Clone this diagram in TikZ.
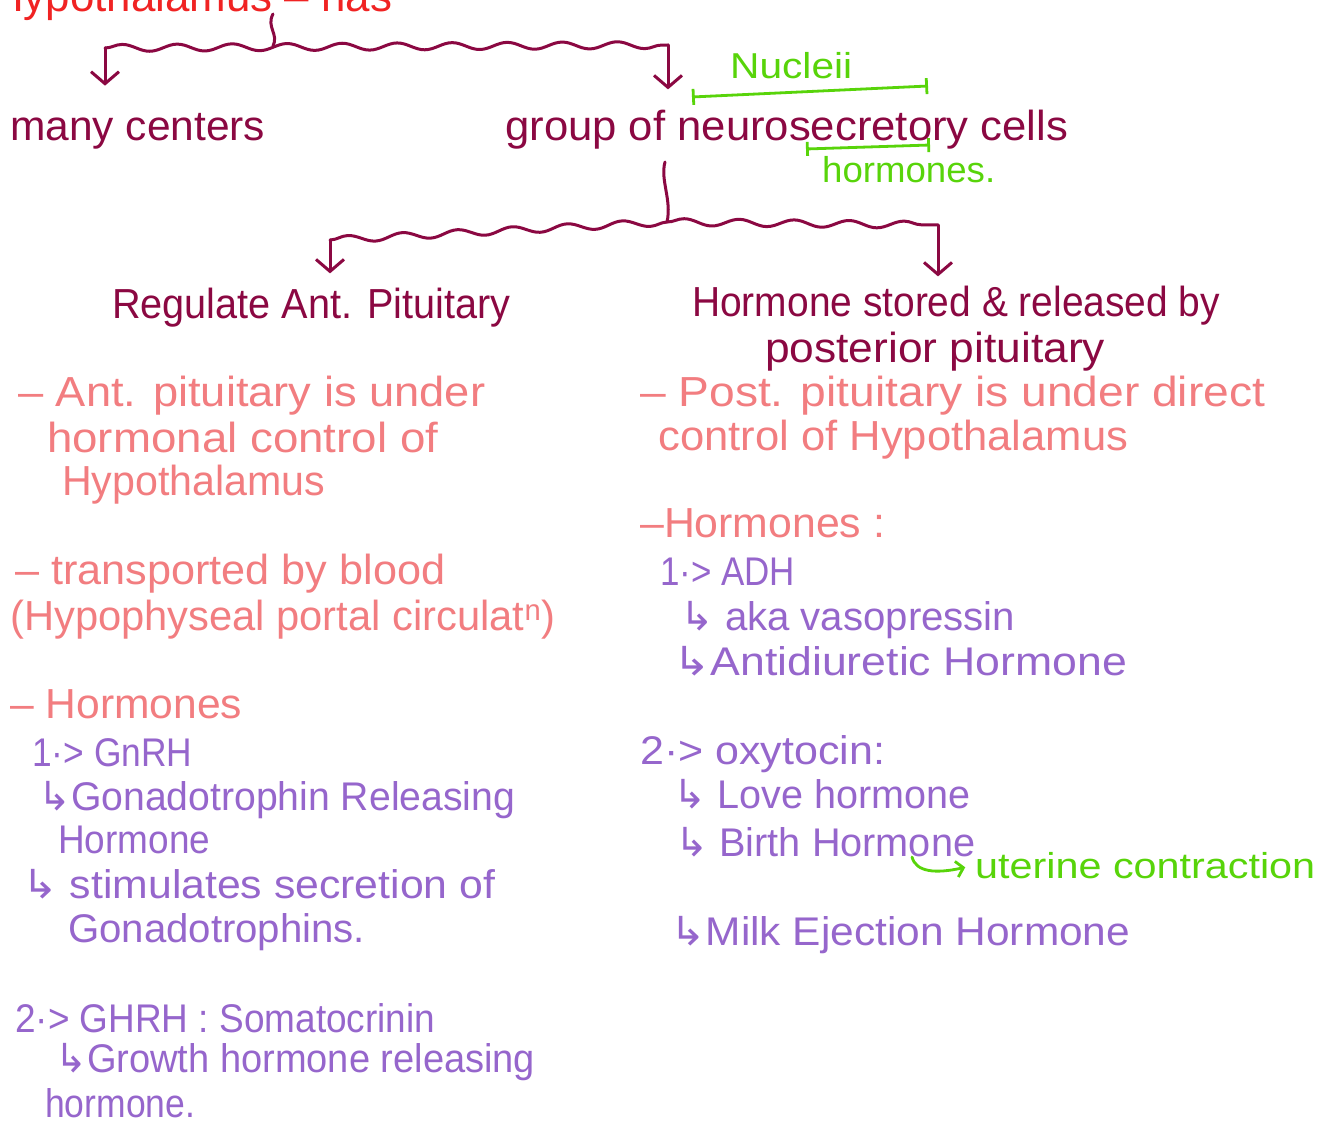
\documentclass[tikz,border=0pt]{standalone}
\usepackage{fontspec}
\usepackage{graphicx}
\setmainfont{Liberation Sans}
\newfontfamily\symf{DejaVu Sans}
\usetikzlibrary{arrows.meta,decorations.pathmorphing}
\definecolor{hmaroon}{RGB}{139,8,66}
\definecolor{topred}{RGB}{240,35,35}
\definecolor{pinkc}{RGB}{242,125,128}
\definecolor{purp}{RGB}{150,102,204}
\definecolor{grn}{RGB}{88,212,10}
\newcommand\fw[2]{\resizebox{#1pt}{\height}{#2}}
\newcommand\hk{{\symf ↳}}
\begin{document}
\begin{tikzpicture}[x=1pt,y=-1pt,
  txt/.style={anchor=base west, inner sep=0pt},
  hd/.style={txt, text=hmaroon, font=\fontsize{42}{46}\selectfont},
  rd/.style={txt, text=topred, font=\fontsize{44}{46}\selectfont},
  pk/.style={txt, text=pinkc, font=\fontsize{42}{46}\selectfont},
  pu/.style={txt, text=purp, font=\fontsize{40}{46}\selectfont},
  gr/.style={txt, text=grn, font=\fontsize{36}{40}\selectfont},
  conn/.style={draw=hmaroon, line width=3pt, line cap=round, line join=round},
  wave/.style={decorate, decoration={snake, amplitude=3.5pt, segment length=55pt}},
  tipv/.style={-{Straight Barb[length=12pt,width=28pt]}},
  gline/.style={draw=grn, line width=2.8pt, line cap=round}
]
\useasboundingbox (0,0) rectangle (1330,1124);
\fill[white] (0,0) rectangle (1330,1124);
\clip (0,0) rectangle (1330,1124);

% top
\node[rd] (hyp) at (-8,12) {\fw{400}{Hypothalamus – has}};
\node[hd] (mc) at (10,140) {\fw{255}{many centers}};
\node[hd] (grp) at (505,140) {\fw{563}{group of neurosecretory cells}};
\node[gr] (nuc) at (730,78) {\fw{122}{Nucleii}};
\node[gr] (hor) at (822,182) {\fw{173}{hormones.}};

\coordinate (s1) at (273,14);
\coordinate (j1) at (273,46);
\coordinate (l1) at (105,48);
\coordinate (r1) at (668,45);
\draw[conn] (s1) .. controls (266,27) and (279,34) .. (j1);
\draw[conn, wave] (l1) -- (r1);
\draw[conn, tipv, shorten >=27pt] (l1) -- (l1 |- mc.north);
\draw[conn, tipv, shorten >=20pt] (r1) -- (r1 |- grp.north);

\draw[gline, {Bar[width=16pt]}-{Bar[width=16pt]}] (692,97) -- (928,86);
\draw[gline, {Bar[width=14pt]}-{Bar[width=14pt]}] (806,149) -- (930,145);

% second level
\node[hd] (rap) at (112,318) {\fw{398}{Regulate Ant. Pituitary}};
\node[hd] (hsr) at (692,316) {\fw{528}{Hormone stored \& released by}};
\node[hd] (pp) at (765,362) {\fw{340}{posterior pituitary}};

\coordinate (s2) at (665,162);
\coordinate (j2) at (667,222);
\coordinate (l2) at (330,240);
\coordinate (r2) at (938,225);
\draw[conn] (s2) .. controls (660,180) and (672,200) .. (j2);
\draw[conn, wave] (j2) -- (l2);
\draw[conn, wave] (j2) -- (r2);
\draw[conn, tipv, shorten >=14pt] (l2) -- (l2 |- rap.north);
\draw[conn, tipv, shorten >=9pt] (r2) -- (r2 |- hsr.north);

% left column
\node[pk] (p1) at (18,406) {\fw{467}{– Ant. pituitary is under}};
\node[pk] (p2) at (47,452) {\fw{391}{hormonal control of}};
\node[pk] (p3) at (62,495) {\fw{263}{Hypothalamus}};
\node[pk] (p4) at (15,584) {\fw{430}{– transported by blood}};
\node[pk] (p5) at (10,630) {\fw{545}{(Hypophyseal portal circulat\textsuperscript{n})}};
\node[pk] (p6) at (10,718) {\fw{232}{– Hormones}};

\node[pu] (u1) at (32,766) {\fw{160}{1·> GnRH}};
\node[pu] (u2) at (38,810) {\fw{477}{\hk Gonadotrophin Releasing}};
\node[pu] (u3) at (58,853) {\fw{152}{Hormone}};
\node[pu] (u4) at (22,898) {\fw{473}{\hk\ stimulates secretion of}};
\node[pu] (u5) at (68,942) {\fw{297}{Gonadotrophins.}};
\node[pu] (u6) at (15,1032) {\fw{420}{2·> GHRH : Somatocrinin}};
\node[pu] (u7) at (55,1072) {\fw{480}{\hk Growth hormone releasing}};
\node[pu] (u8) at (45,1117) {\fw{150}{hormone.}};

% right column
\node[pk] (q1) at (640,406) {\fw{625}{– Post. pituitary is under direct}};
\node[pk] (q2) at (658,450) {\fw{470}{control of Hypothalamus}};
\node[pk] (q3) at (640,537) {\fw{245}{–Hormones :}};

\node[pu] (v1) at (660,585) {\fw{135}{1·> ADH}};
\node[pu] (v2) at (680,630) {\fw{335}{\hk\ aka vasopressin}};
\node[pu] (v3) at (673,675) {\fw{454}{\hk Antidiuretic Hormone}};
\node[pu] (v4) at (640,764) {\fw{245}{2·> oxytocin:}};
\node[pu] (v5) at (673,808) {\fw{297}{\hk\ Love hormone}};
\node[pu] (v6) at (675,856) {\fw{300}{\hk\ Birth Hormone}};
\node[pu] (v7) at (670,945) {\fw{460}{\hk Milk Ejection Hormone}};

\node[gr] (uc) at (975,878) {\fw{340}{uterine contraction}};
\coordinate (s3) at (912,857);
\draw[gline, -{Straight Barb[length=7pt,width=16pt]}, shorten >=10pt] (s3) .. controls (916,872) and (935,874) .. (uc.west);
\end{tikzpicture}
\end{document}
